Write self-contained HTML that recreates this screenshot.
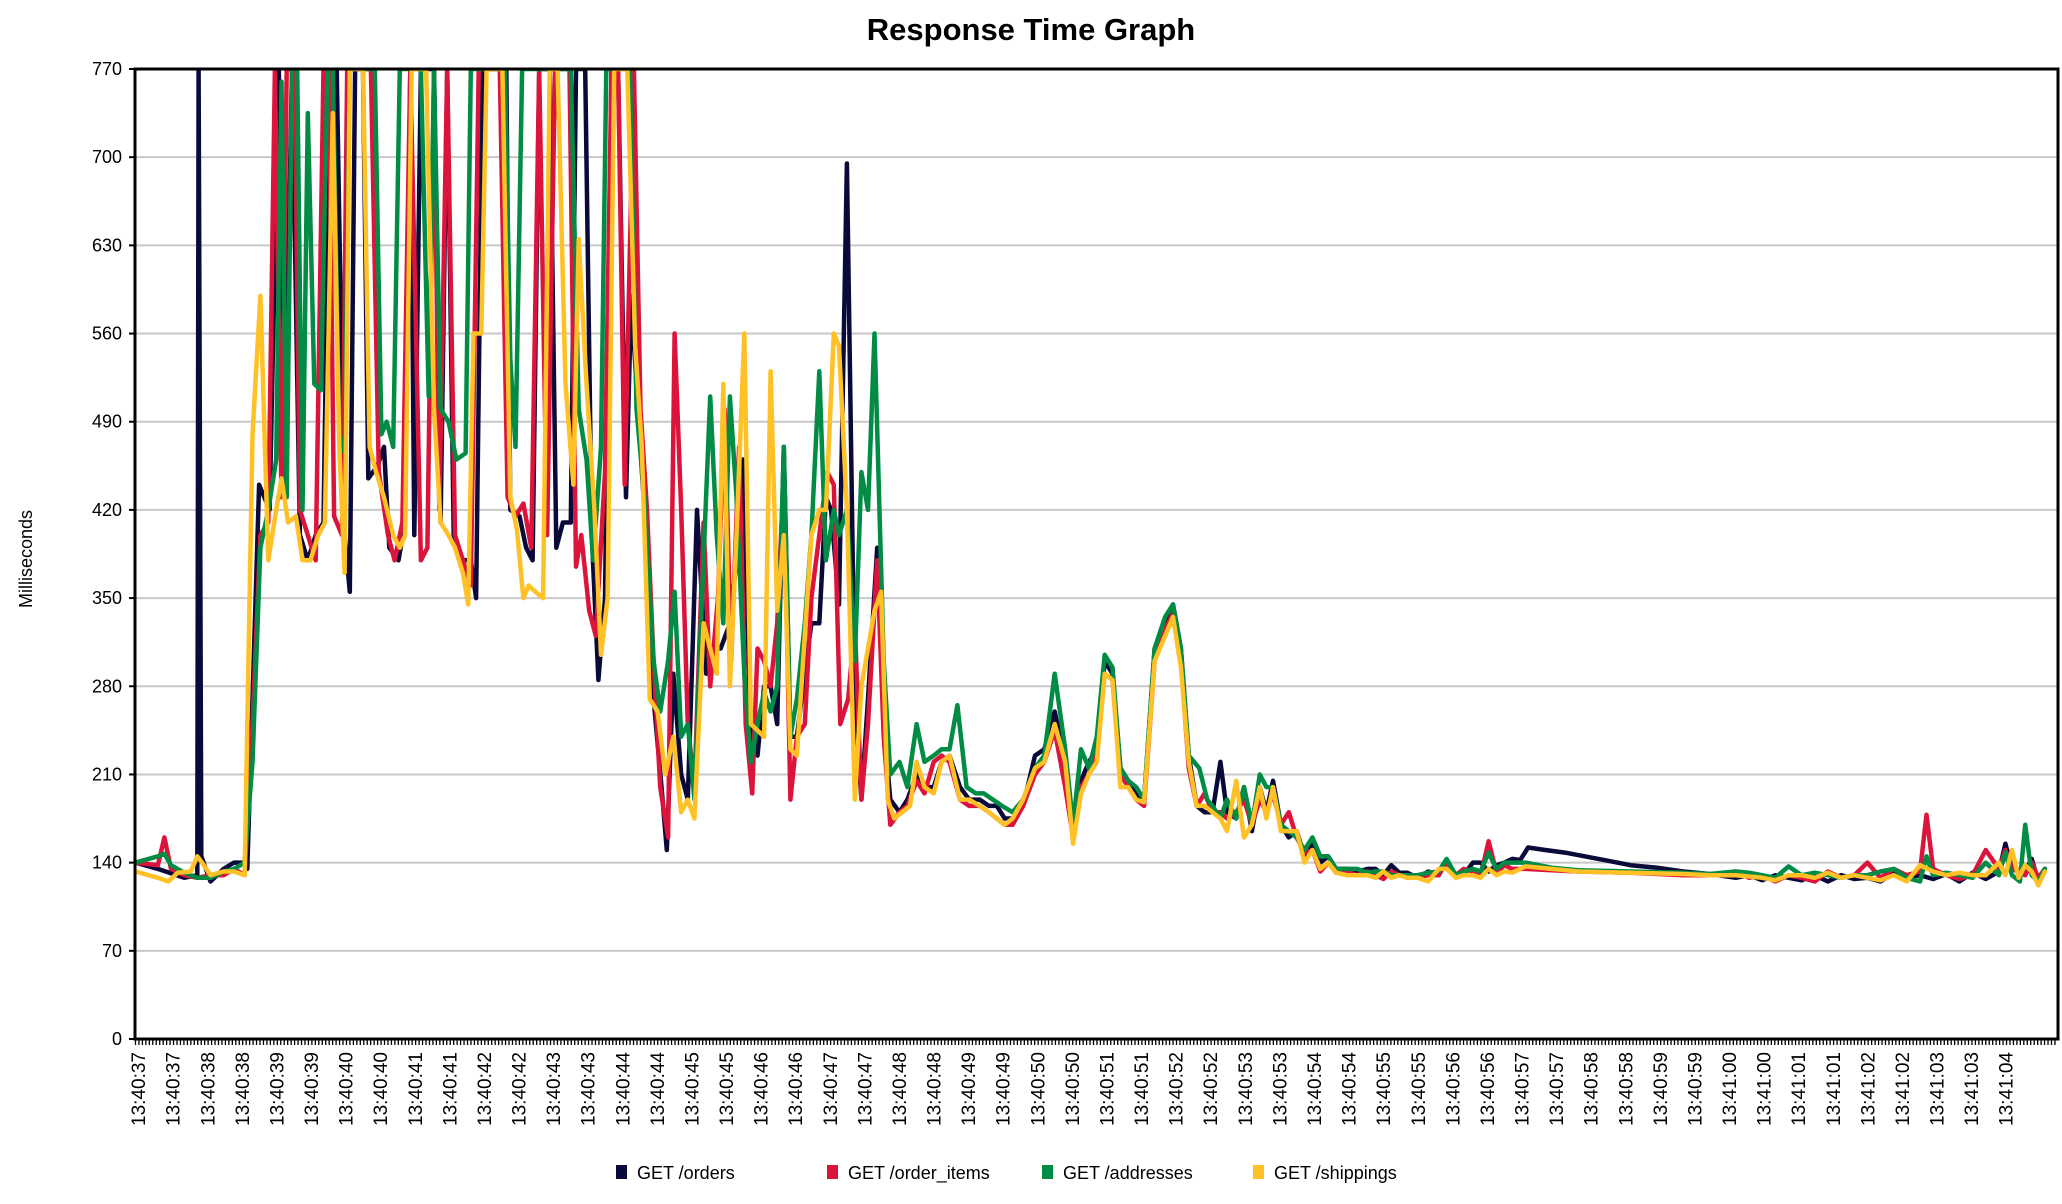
<!DOCTYPE html>
<html><head><meta charset="utf-8"><style>
html,body{margin:0;padding:0;background:#fff;}
svg{display:block;font-family:"Liberation Sans",sans-serif;}
</style></head><body>
<svg id="chart" width="2062" height="1204" viewBox="0 0 2062 1204" xmlns="http://www.w3.org/2000/svg">
<text x="1031" y="40" text-anchor="middle" font-size="31" font-weight="bold" fill="#000">Response Time Graph</text>
<text transform="translate(32,559) rotate(-90)" text-anchor="middle" font-size="18" fill="#000">Milliseconds</text>
<g id="grid"></g>
<g id="yaxis"></g>
<g id="xaxis"></g>
<defs><clipPath id="plotclip"><rect x="135" y="69" width="1923" height="970"/></clipPath></defs>
<g id="series" clip-path="url(#plotclip)"></g>
<rect x="135" y="69" width="1923" height="970" fill="none" stroke="#000" stroke-width="3"/>
<g id="legend"></g>
</svg>
<script>
// y axis ticks (ms)
const yTicks = [0,70,140,210,280,350,420,490,560,630,700,770];
// x tick labels
const xLabels = ["13:40:37","13:40:37","13:40:38","13:40:38","13:40:39","13:40:39","13:40:40","13:40:40","13:40:41","13:40:41","13:40:42","13:40:42","13:40:43","13:40:43","13:40:44","13:40:44","13:40:45","13:40:45","13:40:46","13:40:46","13:40:47","13:40:47","13:40:48","13:40:48","13:40:49","13:40:49","13:40:50","13:40:50","13:40:51","13:40:51","13:40:52","13:40:52","13:40:53","13:40:53","13:40:54","13:40:54","13:40:55","13:40:55","13:40:56","13:40:56","13:40:57","13:40:57","13:40:58","13:40:58","13:40:59","13:40:59","13:41:00","13:41:00","13:41:01","13:41:01","13:41:02","13:41:02","13:41:03","13:41:03","13:41:04"];
const seriesNames = ["GET /orders","GET /order_items","GET /addresses","GET /shippings"];
// sample times: elapsed time in 19 ms steps from 13:40:35 (13:40:37 = 105)
const ordersT = [103,120,140,150,151,153,160,170,178,185,188,197,205,212,216,222,228,234,240,246,251,256,262,266,270,276,280,287,292,296,303,308,312,315,320,330,335,340,345,352,358,362,367,385,388,395,400,405,410,418,423,428,434,438,445,450,455,460,465,470,476,480,485,490,497,503,507,512,518,523,530,537,543,548,555,560,565,571,576,581,586,591,596,601,606,612,617,623,628,632,638,644,650,655,660,667,672,677,684,690,697,703,710,716,722,730,737,745,752,758,764,770,778,787,794,802,810,816,822,828,834,840,846,852,858,864,870,878,886,892,898,904,910,916,922,928,933,940,946,952,958,963,968,974,980,986,992,998,1004,1010,1016,1024,1032,1040,1046,1052,1058,1064,1070,1078,1086,1094,1100,1107,1113,1120,1126,1132,1138,1144,1150,1156,1162,1175,1190,1205,1220,1240,1260,1280,1300,1320,1330,1340,1350,1360,1370,1380,1390,1400,1410,1420,1430,1440,1450,1460,1470,1480,1490,1500,1510,1520,1525,1530,1540,1545,1550,1555];
const ordersV = [140,135,128,130,770,145,125,135,140,140,135,440,420,770,440,770,400,380,400,410,770,770,400,355,770,770,445,455,470,390,380,410,770,400,770,770,410,770,400,380,380,350,770,770,420,415,390,380,770,770,390,410,410,770,770,400,285,350,770,770,430,590,500,420,270,200,150,290,210,190,420,290,310,310,330,380,460,240,225,280,280,250,470,240,240,290,330,330,430,420,345,695,270,190,270,390,250,190,180,190,210,200,200,220,225,200,190,190,185,185,175,175,185,225,230,260,220,170,205,220,230,300,290,215,205,195,190,310,330,345,310,225,185,180,180,220,180,175,200,165,200,180,205,170,160,165,145,155,140,145,135,135,133,135,135,130,138,132,132,128,133,130,142,130,130,140,140,133,138,140,143,142,152,150,148,145,142,138,136,133,131,128,130,126,130,128,126,130,125,130,127,128,125,132,128,130,127,131,125,132,127,133,155,135,133,143,125,135];
const itemsT = [103,120,125,130,140,150,160,170,178,186,192,198,204,209,214,218,224,228,234,240,246,250,254,260,264,270,276,282,288,295,300,306,312,320,325,330,334,340,346,352,358,364,370,380,386,392,398,404,410,416,422,428,433,438,442,448,453,460,465,470,475,482,487,492,497,502,508,513,518,523,528,535,540,546,551,556,562,567,572,576,581,586,591,596,601,606,612,617,623,629,634,639,645,650,655,660,667,672,677,684,690,697,703,710,716,722,730,737,745,752,758,764,770,778,787,794,802,810,816,822,828,834,840,846,852,858,864,870,878,886,892,898,904,910,916,922,928,933,940,946,952,958,963,968,974,980,986,992,998,1004,1010,1016,1024,1032,1040,1046,1052,1058,1064,1070,1078,1086,1094,1100,1107,1113,1120,1126,1132,1138,1144,1150,1160,1180,1200,1240,1280,1300,1320,1330,1340,1350,1360,1370,1380,1390,1400,1410,1420,1430,1440,1450,1460,1465,1470,1480,1490,1500,1510,1520,1525,1530,1540,1545,1550,1555];
const itemsV = [140,138,160,135,130,128,130,130,135,130,250,400,410,770,430,770,770,420,400,380,770,770,415,400,770,770,770,770,450,400,380,410,770,380,390,770,420,770,400,380,360,770,770,770,430,415,425,390,770,400,770,770,770,375,400,340,320,450,770,770,440,770,500,420,300,200,160,560,420,250,200,410,280,350,500,300,470,250,195,310,300,280,330,450,190,240,250,350,400,450,440,250,270,330,190,250,380,240,170,180,185,205,195,220,225,220,190,185,185,180,175,170,170,185,210,220,245,200,160,200,210,225,290,285,210,200,190,185,300,325,338,300,215,185,195,180,180,175,180,190,170,190,180,195,170,180,160,148,150,133,140,132,133,130,133,130,127,133,130,130,128,130,130,140,130,135,133,130,157,132,138,135,135,134,133,132,130,130,133,128,130,125,130,128,125,133,128,130,140,128,135,130,133,178,135,130,127,130,150,135,150,135,130,140,128,135];
const addrT = [103,120,125,130,140,150,160,170,178,186,192,198,204,210,214,218,222,226,230,234,239,244,249,253,258,262,266,272,279,285,290,294,299,304,308,314,320,326,330,335,341,347,354,358,366,374,384,388,392,397,402,408,412,418,423,428,434,440,446,451,457,461,466,472,479,484,490,497,502,508,513,518,523,528,533,540,545,550,555,560,566,571,576,581,586,591,596,601,606,612,617,623,628,634,638,644,650,655,660,665,672,677,684,690,697,703,710,716,722,728,735,742,748,755,762,770,778,787,794,802,810,816,822,828,834,840,846,852,858,864,870,878,886,892,898,904,912,918,922,928,933,940,946,952,958,963,968,974,980,986,992,998,1004,1010,1016,1024,1032,1040,1046,1052,1058,1064,1070,1078,1086,1094,1100,1107,1113,1120,1126,1132,1138,1144,1150,1160,1180,1200,1240,1280,1300,1320,1330,1340,1350,1360,1370,1380,1390,1400,1410,1420,1430,1440,1450,1460,1465,1470,1480,1490,1500,1510,1520,1525,1530,1536,1540,1545,1550,1555];
const addrV = [140,145,147,138,132,128,128,133,135,140,220,390,420,460,760,430,770,770,420,735,520,515,770,770,480,465,770,770,770,770,480,490,470,770,770,770,770,510,770,500,490,460,465,770,770,770,770,540,470,770,770,770,770,770,770,770,770,500,460,380,470,770,770,770,770,500,430,300,260,300,355,240,250,190,330,510,400,330,510,430,290,220,250,275,260,280,470,240,270,330,400,530,380,420,400,420,300,450,420,560,300,210,220,200,250,220,225,230,230,265,200,195,195,190,185,180,190,215,225,290,230,170,230,215,240,305,295,215,205,200,190,310,335,345,310,225,215,190,185,175,190,175,200,170,210,200,200,170,165,160,150,160,145,145,135,135,135,132,133,133,130,130,130,130,132,133,143,130,133,135,133,148,135,140,140,140,136,134,133,132,131,133,132,130,128,137,130,132,130,128,130,130,133,135,128,125,145,130,132,130,128,140,130,148,130,125,170,130,125,135];
const shipT = [103,120,128,135,145,150,155,160,170,178,186,192,198,204,210,214,219,225,230,236,242,247,253,258,262,266,270,276,281,286,292,299,304,308,313,318,324,330,335,341,346,352,356,360,366,370,376,382,388,393,398,402,407,413,418,424,430,436,440,446,452,457,462,467,472,477,483,488,494,500,506,512,518,523,528,535,540,545,550,555,560,566,571,576,581,586,591,596,601,606,612,617,623,628,634,638,644,650,655,660,665,670,675,680,686,692,697,703,710,716,722,730,737,745,752,758,764,770,778,787,794,802,810,816,822,828,834,840,846,852,858,864,870,878,886,892,898,904,910,916,922,928,933,940,946,952,958,963,968,974,980,986,992,998,1004,1010,1016,1024,1032,1040,1046,1052,1058,1064,1070,1078,1086,1094,1100,1107,1113,1120,1126,1132,1138,1144,1150,1160,1180,1200,1240,1280,1300,1320,1340,1350,1360,1370,1380,1390,1400,1410,1420,1430,1440,1450,1460,1470,1480,1490,1500,1510,1520,1525,1530,1535,1540,1545,1550,1555];
const shipV = [133,128,125,132,133,145,138,130,133,133,130,480,590,380,420,445,410,415,380,380,400,410,735,470,370,770,770,770,470,450,430,400,390,400,770,770,770,500,410,400,390,370,345,560,560,770,770,770,430,405,350,360,355,350,770,770,520,440,635,520,420,305,350,770,770,770,550,470,270,260,210,240,180,190,175,330,310,290,520,280,400,560,250,245,240,530,340,400,230,225,320,400,420,420,560,550,420,190,280,310,340,355,190,175,180,185,220,200,195,220,225,190,190,185,180,175,170,175,190,215,220,250,220,155,195,210,220,290,285,200,200,190,188,300,320,335,295,220,185,185,180,175,165,205,160,170,200,175,200,165,165,165,140,150,135,140,132,130,130,130,128,133,128,130,128,128,125,135,135,128,130,130,128,135,130,133,132,137,135,133,132,131,130,130,128,126,130,130,128,132,128,130,128,126,130,125,138,133,130,132,130,130,140,130,150,128,138,133,122,133];

const X0 = 135.5, YB = 1039, YT = 69, VMAX = 770, TSCALE = 1.315;
function xScale(t){ return X0 + (t - 103) * TSCALE; }
function yScale(v){ return YB - v / VMAX * (YB - YT); }
function labelT(i){ return 105 + i * 26.3; }
const NS = "http://www.w3.org/2000/svg";
function mk(tag, attrs, parent){ const e = document.createElementNS(NS, tag); for (const k in attrs) e.setAttribute(k, attrs[k]); parent.appendChild(e); return e; }

const grid = document.getElementById('grid');
const yax = document.getElementById('yaxis');
yTicks.forEach(v => {
  const y = yScale(v);
  if (v > 0 && v < VMAX) {
    const g = mk('line', {x1:136, x2:2058, y1:y, y2:y, stroke:'#c8c8c8', 'stroke-width':2}, grid);
    
    
  }
  const tk = mk('line', {x1:129, x2:135, y1:y, y2:y, stroke:'#000', 'stroke-width':2}, yax);
  
  
  const tx = mk('text', {x:122, y:y+6, 'text-anchor':'end', 'font-size':18, fill:'#000'}, yax);
  tx.textContent = v;
  
  
});

const xax = document.getElementById('xaxis');
for (let t = 103; xScale(t) < 2056; t += 2.63) {
  const x = xScale(t);
  const m = mk('line', {x1:x, x2:x, y1:1040, y2:1045, stroke:'#000', 'stroke-width':1.3}, xax);
  
  
}
xLabels.forEach((lab, i) => {
  const x = xScale(labelT(i));
  const tx = mk('text', {transform:`translate(${x+7},1052) rotate(-90)`, 'text-anchor':'end', 'font-size':19, fill:'#000'}, xax);
  tx.textContent = lab;
  
  
});

const seriesG = document.getElementById('series');
const colors = ['#0a0a3a','#dc143c','#008c45','#ffc125'];
const allT = [ordersT, itemsT, addrT, shipT];
const allV = [ordersV, itemsV, addrV, shipV];
const sNames = ['series-orders','series-order-items','series-addresses','series-shippings'];
allT.forEach((ts, s) => {
  const vs = allV[s];
  const d = ts.map((t, i) => (i ? 'L' : 'M') + xScale(t).toFixed(1) + ',' + yScale(vs[i]).toFixed(1)).join(' ');
  const p = mk('path', {d:d, fill:'none', stroke:colors[s], 'stroke-width':4.5, 'stroke-linejoin':'round', 'stroke-linecap':'round'}, seriesG);
  
  
});

const legend = document.getElementById('legend');
const legX = [616, 827, 1042, 1253];
seriesNames.forEach((n, i) => {
  const r = mk('rect', {x:legX[i], y:1165, width:11, height:14, fill:colors[i]}, legend);
  
  
  const tx = mk('text', {x:legX[i]+21, y:1179, 'font-size':18, fill:'#000'}, legend);
  tx.textContent = n;
  
  
});
</script>
</body></html>
